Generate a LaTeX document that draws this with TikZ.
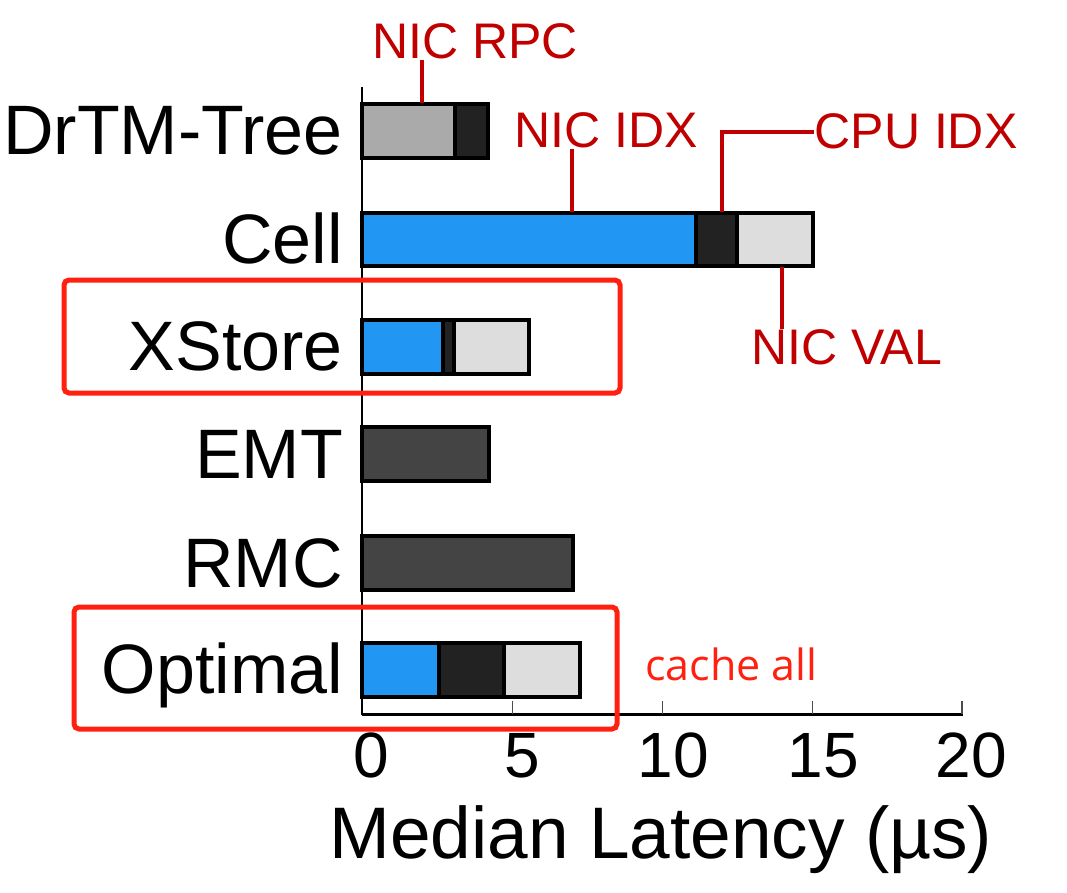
\documentclass[tikz,border=0pt]{standalone}
\usepackage{fontspec}
\setmainfont{Liberation Sans}
\newfontfamily\osans{Open Sans}
\definecolor{annred}{HTML}{C00000}
\definecolor{boxred}{HTML}{FF2010}
\definecolor{barblue}{HTML}{2196F3}
\definecolor{bardark}{HTML}{222222}
\definecolor{barlight}{HTML}{DDDDDD}
\definecolor{barmid}{HTML}{AAAAAA}
\definecolor{bargray}{HTML}{444444}
\begin{document}
\begin{tikzpicture}[x=1pt,y=-1pt,
 seg/.style={draw=black,line width=4pt},
 cat/.style={anchor=base east,inner sep=0pt,font=\fontsize{70}{80}\selectfont},
 ann/.style={anchor=base,inner sep=0pt,text=annred,font=\fontsize{50}{60}\selectfont},
 lead/.style={draw=annred,line width=3.5pt},
 hl/.style={draw=boxred,line width=5pt,rounded corners=5pt},
 ticklab/.style={anchor=base,inner sep=0pt,font=\fontsize{64}{72}\selectfont},
 tickmark/.style={draw=black!70,line width=1.5pt}]
\useasboundingbox (0,0) rectangle (1067,893);

% axes
\coordinate (o) at (362,714.5);
\coordinate (ytop) at (362,87);
\coordinate (xend) at (963,714.5);
\draw[line width=2pt] (ytop) -- (o);
\draw[line width=2.5pt] (o) -- (xend);
\foreach \x in {512.5,662.5,812.5,962}
  \draw[tickmark] (\x,701) -- (\x,714);

% bars
% DrTM-Tree
\draw[seg,fill=barmid]  (362,104) rectangle (455,158);
\draw[seg,fill=bardark] (455,104) rectangle (488,158);
% Cell
\draw[seg,fill=barblue]  (362,213) rectangle (696,266);
\draw[seg,fill=bardark]  (696,213) rectangle (737,266);
\draw[seg,fill=barlight] (737,213) rectangle (812.5,266);
% XStore
\draw[seg,fill=barblue]  (362,320) rectangle (443,374);
\draw[seg,fill=bardark]  (443,320) rectangle (454,374);
\draw[seg,fill=barlight] (454,320) rectangle (528.5,374);
% EMT
\draw[seg,fill=bargray] (362,427) rectangle (488.5,481);
% RMC
\draw[seg,fill=bargray] (362,536) rectangle (573,590);
% Optimal
\draw[seg,fill=barblue]  (362,643) rectangle (439,697);
\draw[seg,fill=bardark]  (439,643) rectangle (504,697);
\draw[seg,fill=barlight] (504,643) rectangle (580,697);

% category labels
\node[cat] (lDrTM) at (343,155) {DrTM-Tree};
\node[cat] (lCell) at (343,263) {Cell};
\node[cat] (lXS) at (343,370) {XStore};
\node[cat] (lEMT) at (343,478) {EMT};
\node[cat] (lRMC) at (343,587) {RMC};
\node[cat] (lOpt) at (343,693) {Optimal};

% tick labels
\node[ticklab] (t0) at (371,777) {0};
\node[ticklab] (t5) at (522,777) {5};
\node[ticklab] (t10) at (673,777) {10};
\node[ticklab] (t15) at (823,777) {15};
\node[ticklab] (t20) at (971,777) {20};
\node[anchor=base,inner sep=0pt,font=\fontsize{73}{80}\selectfont] (xlab) at (661,858) {Median Latency (µs)};

% annotations
\node[ann] (rpc) at (475,59) {NIC RPC};
\coordinate (rpcend) at (422,103);
\draw[lead] (rpc.south -| rpcend) -- (rpcend);

\node[ann] (idx) at (606,148) {NIC IDX};
\coordinate (idxend) at (572,212);
\draw[lead] (idx.south -| idxend) -- (idxend);

\node[ann] (cpu) at (916,149) {CPU IDX};
\coordinate (cpuend) at (722,212);
\draw[lead] (cpu.west) -| (cpuend);

\node[ann] (val) at (846.5,364) {NIC VAL};
\coordinate (valstart) at (782,267);
\draw[lead] (valstart) -- (val.north -| valstart);

\node[anchor=base,inner sep=0pt,text=boxred,font=\osans\fontsize{43}{50}\selectfont] (cache) at (731.5,680) {cache all};

% highlight boxes
\draw[hl] (64,280) rectangle (620,393);
\draw[hl] (74,607) rectangle (617,729);
\end{tikzpicture}
\end{document}
